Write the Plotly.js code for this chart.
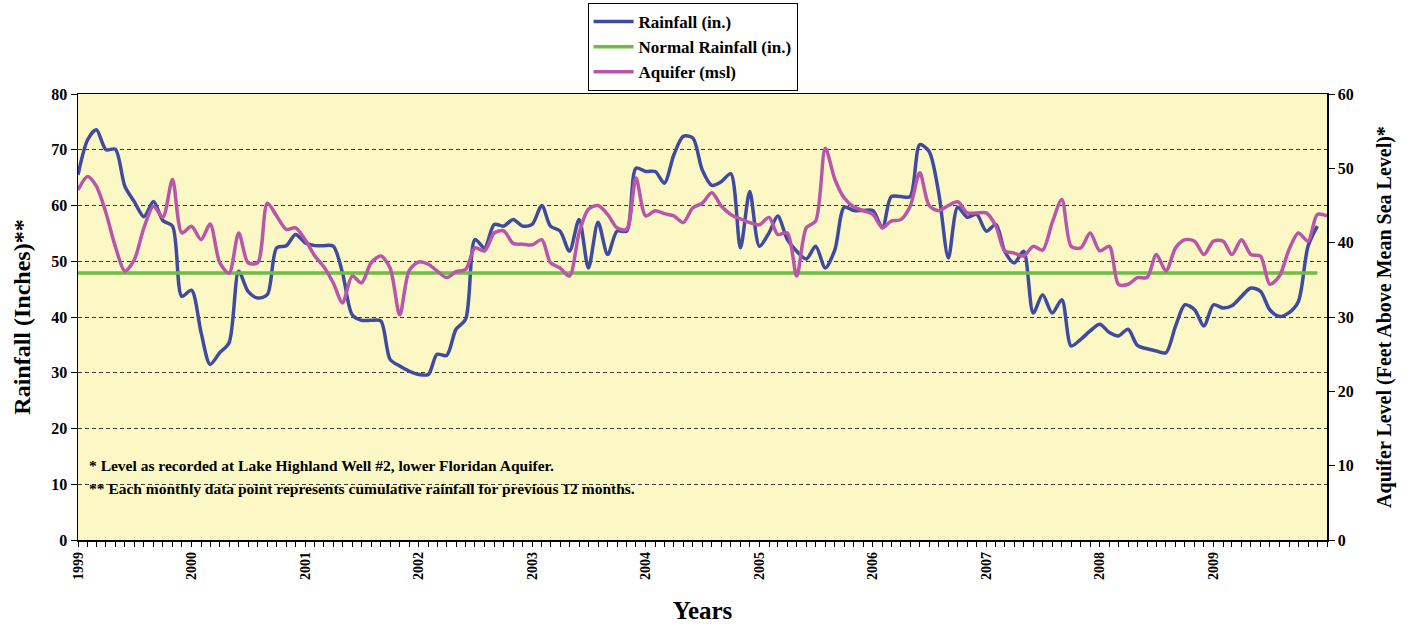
<!DOCTYPE html>
<html>
<head>
<meta charset="utf-8">
<script src="https://cdn.plot.ly/plotly-3.0.1.min.js"></script>
<style>html,body{margin:0;padding:0;background:#fff}#chart{width:1413px;height:628px}</style>
</head>
<body>
<div id="chart"></div>
<script>
const years = [1999, 2000, 2001, 2002, 2003, 2004, 2005, 2006, 2007, 2008, 2009];

// Cumulative 12-month rainfall (in.), monthly Jan 1999 - Dec 2009
const rainfall = [
  65.5, 71.8, 73.6, 70.0, 70.1, 63.4, 60.7, 58.0, 60.7, 57.3, 56.3, 43.7,
  44.8, 37.2, 31.5, 33.6, 35.4, 48.2, 44.6, 43.4, 44.0, 52.4, 52.8, 54.8,
  53.3, 52.8, 52.8, 52.7, 47.9, 40.4, 39.4, 39.4, 39.3, 32.4, 31.2, 30.3,
  29.7, 29.7, 33.3, 33.1, 37.8, 39.6, 53.9, 52.4, 56.6, 56.3, 57.5, 56.3,
  56.6, 60.0, 56.3, 55.4, 51.8, 57.5, 48.8, 57.0, 51.2, 55.4, 55.4, 66.7,
  66.1, 66.1, 64.0, 69.1, 72.4, 72.1, 66.4, 63.6, 64.3, 65.7, 52.4, 62.5,
  52.7, 55.1, 58.1, 53.9, 51.8, 50.4, 52.7, 48.8, 52.1, 59.7, 59.1, 59.1,
  59.1, 56.0, 61.6, 61.6, 61.6, 70.9, 69.7, 62.2, 50.6, 59.7, 57.9, 58.4,
  55.4, 56.6, 51.8, 49.7, 51.8, 40.7, 44.0, 40.7, 43.1, 34.8, 36.0, 37.5,
  38.7, 37.2, 36.6, 37.8, 34.9, 34.3, 33.9, 33.6, 38.4, 42.2, 41.3, 38.4,
  42.2, 41.6, 42.0, 43.7, 45.2, 44.6, 41.3, 40.1, 40.8, 42.8, 52.7, 56.3
];

// Aquifer level (ft above mean sea level), monthly Jan 1999 - Jan 2010
const aquifer = [
  47.1, 48.9, 47.6, 44.0, 39.5, 36.2, 37.7, 42.0, 44.9, 43.4, 48.5, 41.3,
  42.2, 40.4, 42.5, 37.3, 35.9, 41.3, 37.3, 37.3, 45.3, 43.6, 41.8, 42.0,
  40.4, 38.2, 36.8, 34.6, 31.9, 35.5, 34.6, 37.3, 38.2, 36.6, 30.3, 36.2,
  37.4, 37.1, 36.2, 35.3, 36.1, 36.4, 39.3, 38.9, 41.3, 41.6, 39.9, 39.8,
  39.7, 40.4, 37.3, 36.6, 35.5, 41.3, 44.5, 45.0, 43.8, 42.0, 41.8, 48.7,
  43.6, 44.3, 43.9, 43.6, 42.7, 44.7, 45.3, 46.7, 44.9, 43.8, 43.2, 42.7,
  42.4, 43.4, 41.1, 41.3, 35.5, 42.0, 42.9, 52.7, 48.5, 46.0, 44.8, 44.3,
  43.8, 42.0, 42.9, 43.1, 44.9, 49.4, 45.0, 44.3, 45.0, 45.5, 44.0, 44.0,
  44.0, 42.2, 38.9, 38.6, 38.2, 39.5, 39.0, 42.7, 45.8, 39.5, 39.3, 41.3,
  38.9, 39.5, 34.4, 34.4, 35.3, 35.3, 38.4, 36.2, 39.3, 40.4, 40.2, 38.4,
  40.2, 40.2, 38.4, 40.4, 38.4, 38.2, 34.4, 35.5, 39.1, 41.3, 40.2, 43.8,
  43.6
];

const normalRainfall = 47.9;

const noteAquifer = "* Level as recorded at Lake Highland Well #2, lower Floridan Aquifer.";
const noteRainfall = "** Each monthly data point represents cumulative rainfall for previous 12 months.";

// Monthly date labels starting Jan 1999
const months = [];
for (const y of years.concat([2010])) {
  for (let m = 1; m <= 12; m++) months.push(y + "-" + String(m).padStart(2, "0") + "-01");
}
const rainDates = months.slice(0, rainfall.length);
const aqDates = months.slice(0, aquifer.length);
const yearTickVals = years.map(y => y + "-01-01");
const yearTickText = years.map(String);

const serif = "Liberation Serif, Times New Roman, serif";
const blue = "#3F4AA1";
const green = "#6DBE45";
const magenta = "#B955AA";

const traces = [
  {x: rainDates, y: rainfall, name: "Rainfall (in.)", type: "scatter", mode: "lines",
   line: {color: blue, width: 3.5, shape: "spline", smoothing: 0.8}},
  {x: [rainDates[0], rainDates[rainDates.length - 1]], y: [normalRainfall, normalRainfall],
   name: "Normal Rainfall (in.)", type: "scatter", mode: "lines",
   line: {color: green, width: 3.5}},
  {x: aqDates, y: aquifer, name: "Aquifer (msl)", type: "scatter", mode: "lines", yaxis: "y2",
   line: {color: magenta, width: 3.5, shape: "spline", smoothing: 0.8}}
];

const xRange = [months[0], months[132]];

const layout = {
  width: 1413, height: 628,
  margin: {l: 78, r: 86, t: 94, b: 88, autoexpand: false},
  paper_bgcolor: "#ffffff",
  plot_bgcolor: "#FBF8C5",
  font: {family: serif, color: "#000", size: 14},
  showlegend: true,
  legend: {
    x: 0.408, y: 1.204, xanchor: "left", yanchor: "top",
    bgcolor: "#ffffff", bordercolor: "#000", borderwidth: 1,
    font: {family: serif, size: 17, weight: "bold", color: "#000"},
    tracegroupgap: 0, itemwidth: 40
  },
  xaxis: {
    type: "date", range: xRange,
    tickmode: "array", tickvals: yearTickVals, ticktext: yearTickText,
    tickangle: -90, ticks: "outside", ticklen: 5, tickcolor: "#000",
    tickfont: {family: serif, size: 14, weight: "bold"},
    minor: {ticks: "outside", dtick: "M1", tick0: months[0], ticklen: 5, tickcolor: "#000", showgrid: false},
    showline: true, linecolor: "#000", linewidth: 1.5, mirror: true,
    showgrid: false, zeroline: false,
    title: {text: "Years", font: {family: serif, size: 25, weight: "bold"}, standoff: 22}
  },
  xaxis2: {
    type: "date", range: xRange, overlaying: "x", anchor: "y", side: "bottom",
    tickmode: "linear", tick0: months[0], dtick: "M1",
    ticks: "inside", ticklen: 4, tickcolor: "#000", showticklabels: false,
    showgrid: false, zeroline: false, showline: false
  },
  yaxis: {
    range: [0, 80], dtick: 10, tick0: 0,
    ticks: "outside", ticklen: 6, tickcolor: "#000",
    tickfont: {family: serif, size: 16, weight: "bold"},
    showline: true, linecolor: "#000", linewidth: 1.5, mirror: true,
    showgrid: true, gridcolor: "#3a3a3a", gridwidth: 1, griddash: "4px,3px",
    zeroline: false,
    title: {text: "Rainfall (Inches)**", font: {family: serif, size: 24, weight: "bold"}, standoff: 14}
  },
  yaxis2: {
    range: [0, 60], dtick: 10, tick0: 0, overlaying: "y", side: "right",
    ticks: "outside", ticklen: 6, tickcolor: "#000",
    tickfont: {family: serif, size: 16, weight: "bold"},
    showline: true, linecolor: "#000", linewidth: 1.5,
    showgrid: false, zeroline: false,
    title: {text: "Aquifer Level (Feet Above Mean Sea Level)*", font: {family: serif, size: 20, weight: "bold"}, standoff: 24}
  },
  annotations: [
    {text: noteAquifer, xref: "paper", yref: "y", x: 0.007, y: 13.3, xanchor: "left", yanchor: "middle",
     showarrow: false, font: {family: serif, size: 15.5, weight: "bold", color: "#000"}},
    {text: noteRainfall, xref: "paper", yref: "y", x: 0.007, y: 9.2, xanchor: "left", yanchor: "middle",
     showarrow: false, font: {family: serif, size: 15.5, weight: "bold", color: "#000"}}
  ]
};

Plotly.newPlot("chart", traces, layout, {displayModeBar: false, staticPlot: true});
</script>
</body>
</html>
